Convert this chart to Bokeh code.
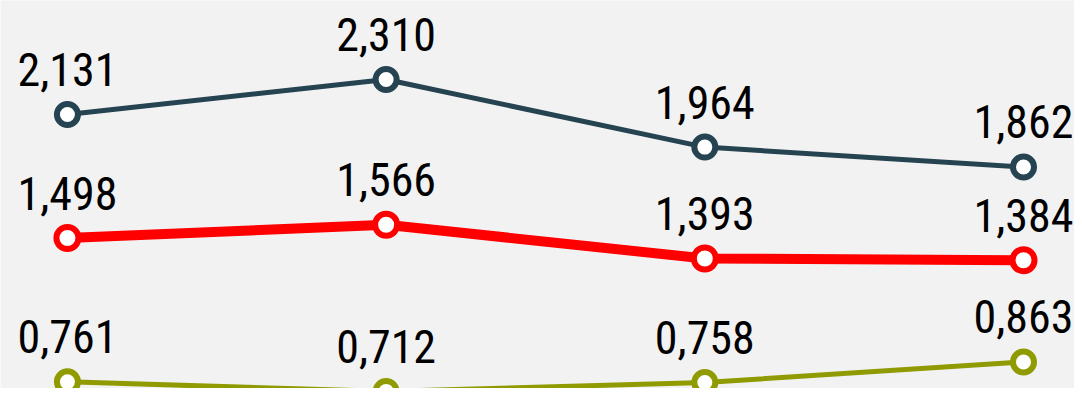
from bokeh.plotting import figure
from bokeh.models import ColumnDataSource, Range1d
from bokeh.core.properties import value
from bokeh.embed import file_html
from bokeh.resources import INLINE

categories = [0, 1, 2, 3]
series_top = [2.131, 2.310, 1.964, 1.862]
series_mid = [1.498, 1.566, 1.393, 1.384]
series_low = [0.761, 0.712, 0.758, 0.863]

def fmt(v):
    return f"{v:.3f}".replace(".", ",")

p = figure(width=1074, height=388, output_backend="svg", toolbar_location=None,
           x_range=Range1d(-0.210, 3.160), y_range=Range1d(0.727, 2.715),
           min_border=0)
p.background_fill_color = "#f2f2f2"
p.border_fill_color = "#f2f2f2"
p.outline_line_color = None
p.axis.visible = False
p.grid.visible = False

styles = [
    (series_top, "#254350", 5, 21, 6),
    (series_mid, "#ff0000", 10, 22, 6),
    (series_low, "#8f9b00", 5, 21, 6),
]
for vals, color, lw, msize, mlw in styles:
    src = ColumnDataSource(dict(x=categories, y=vals, t=[fmt(v) for v in vals]))
    p.line("x", "y", source=src, line_color=color, line_width=lw)
    p.scatter("x", "y", source=src, size=msize, fill_color="white", line_color=color, line_width=mlw)
    p.text("x", "y", text="t", source=src,
           text_font=value("'Roboto Condensed', 'Liberation Sans'"),
           text_font_size="46px", text_align="center", text_baseline="alphabetic",
           y_offset=-45, text_color="black")

open("out.html", "w").write(file_html(p, INLINE))
